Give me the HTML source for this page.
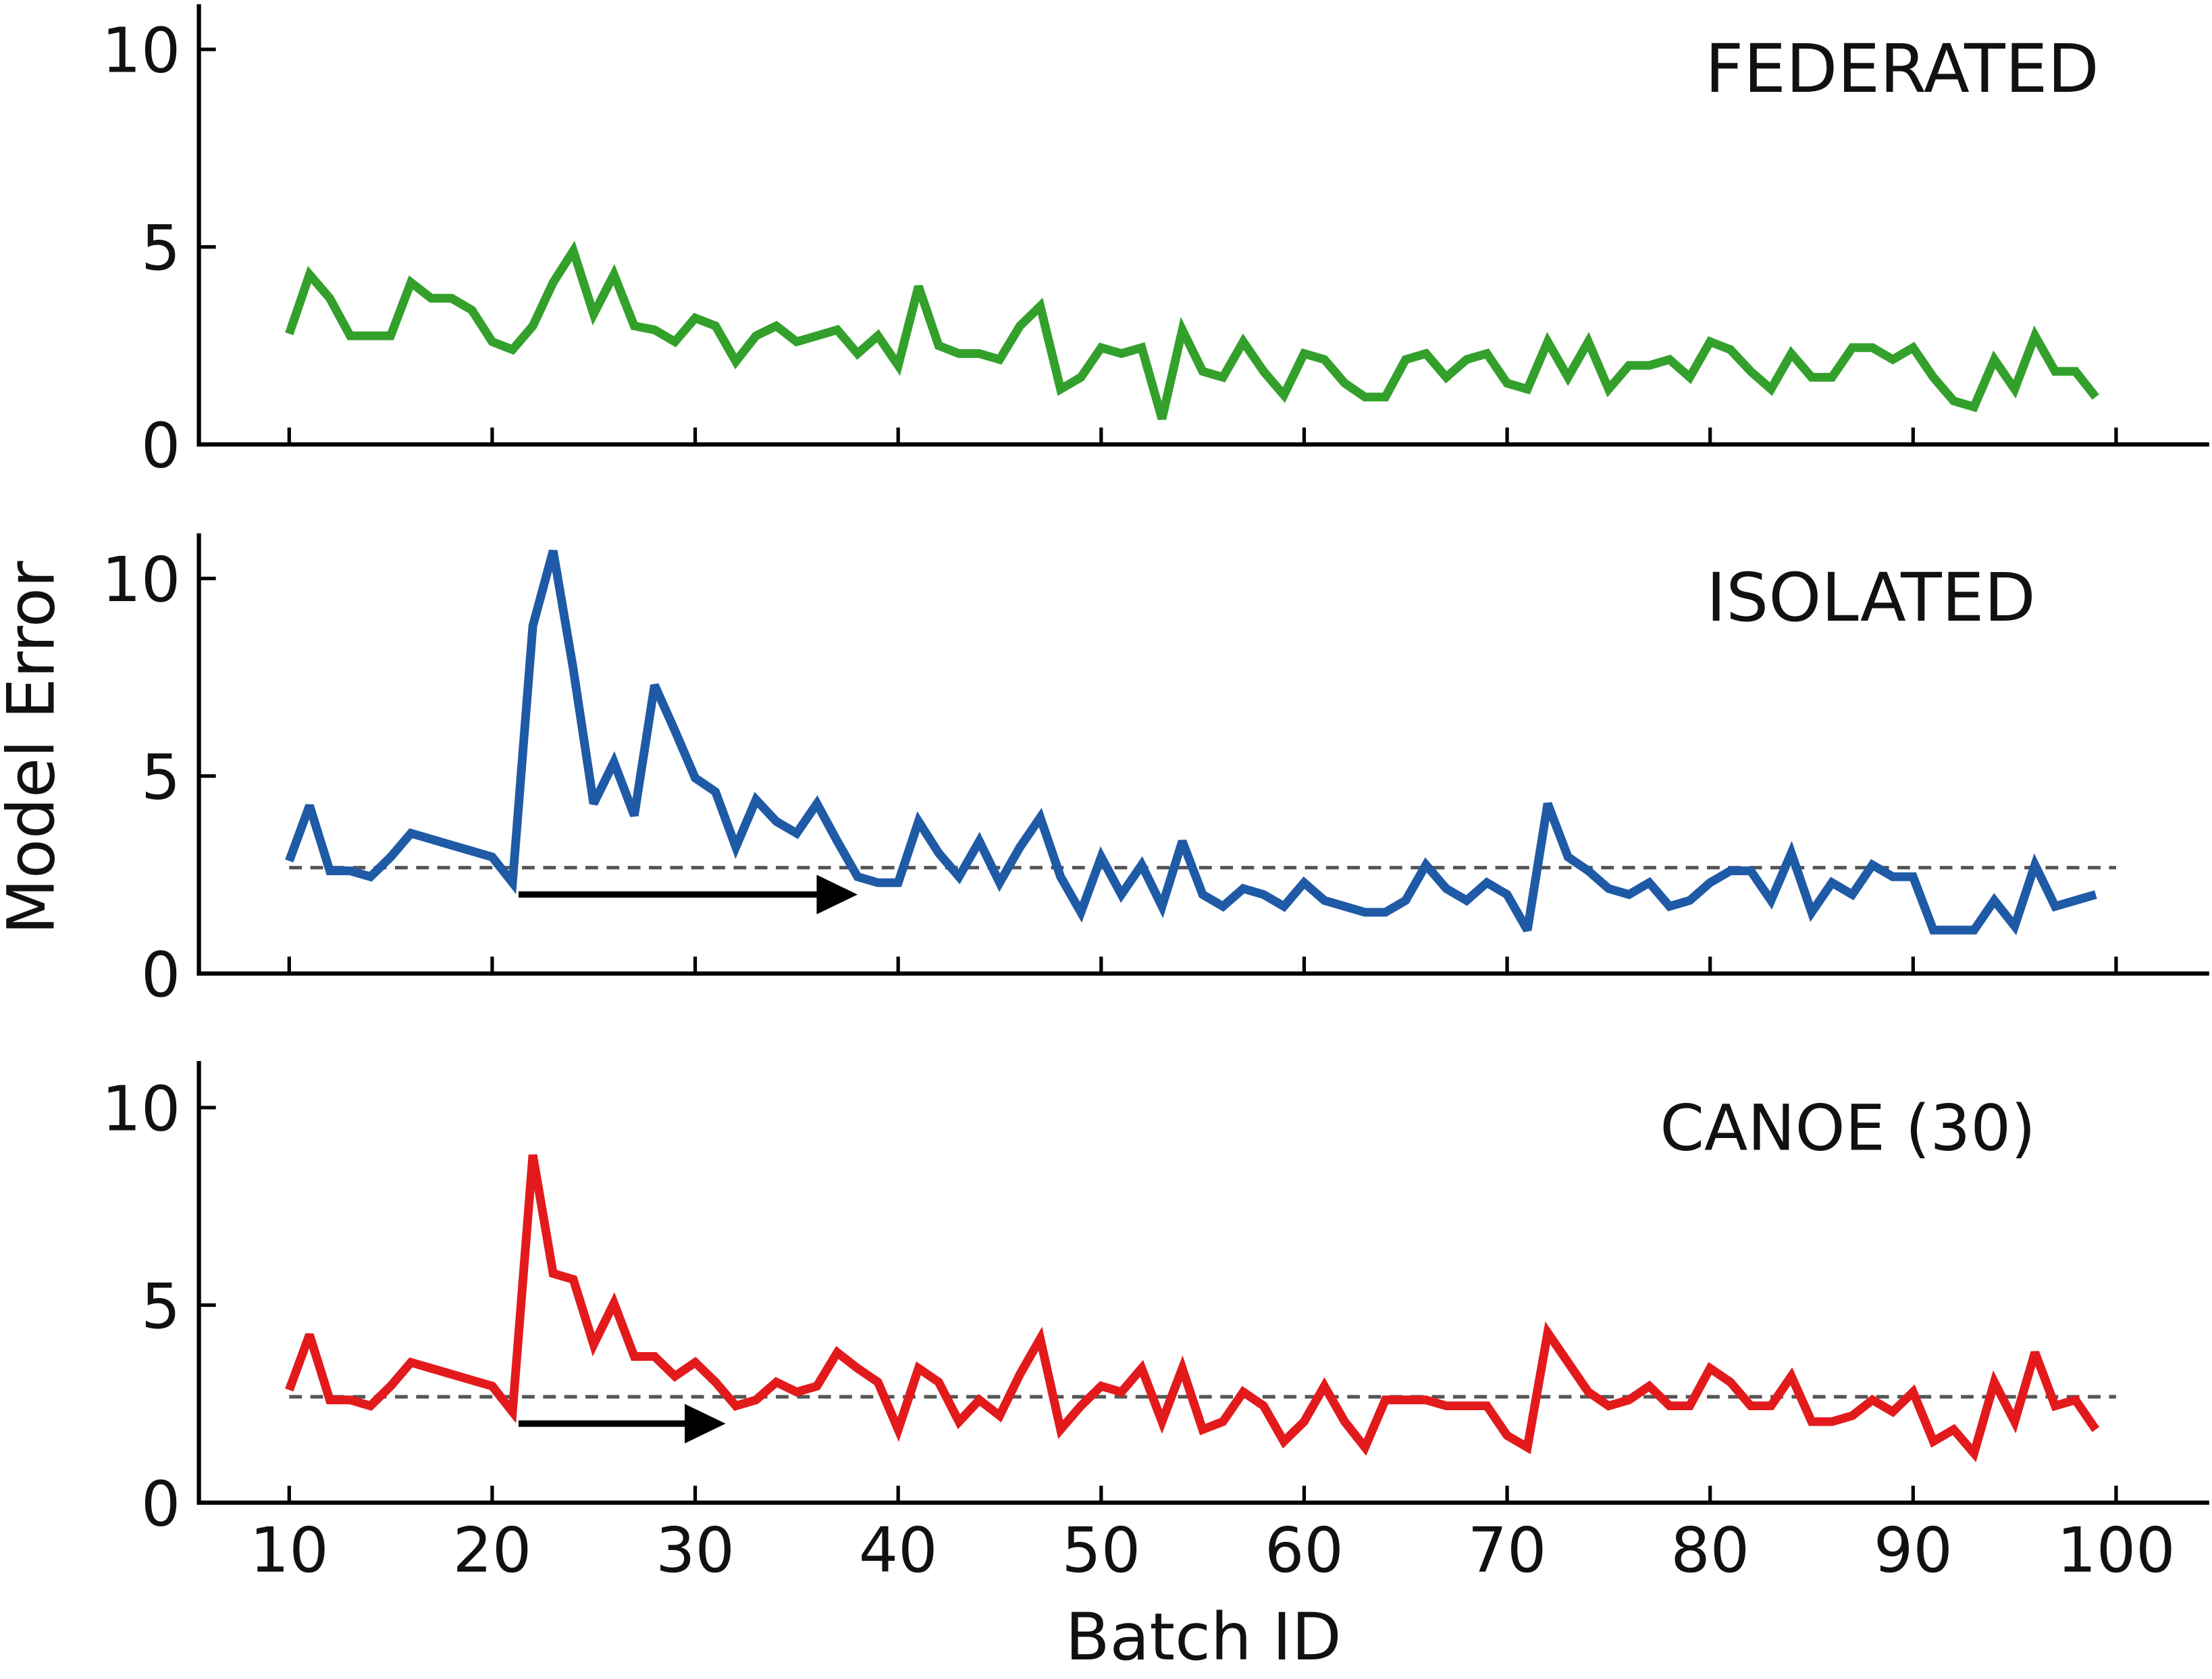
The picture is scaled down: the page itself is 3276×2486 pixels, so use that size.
<!DOCTYPE html>
<html><head><meta charset="utf-8"><style>
html,body{margin:0;padding:0;background:#fff;}
svg{display:block;}
text{font-family:"DejaVu Sans","Liberation Sans",sans-serif;fill:#111;}
</style></head><body>
<svg id="chart" width="3276" height="2486" viewBox="0 0 1568 1190" preserveAspectRatio="none" xmlns="http://www.w3.org/2000/svg">
<g id="root"></g>
</svg>
<script>
const batches = [10,11,12,13,14,15,16,17,18,19,20,21,22,23,24,25,26,27,28,29,30,31,32,33,34,35,36,37,38,39,40,41,42,43,44,45,46,47,48,49,50,51,52,53,54,55,56,57,58,59,60,61,62,63,64,65,66,67,68,69,70,71,72,73,74,75,76,77,78,79,80,81,82,83,84,85,86,87,88,89,90,91,92,93,94,95,96,97,98,99];
const federated = [2.8,4.3,3.7,2.75,2.75,2.75,4.1,3.7,3.7,3.4,2.6,2.4,3.0,4.1,4.9,3.3,4.3,3.0,2.9,2.6,3.2,3.0,2.1,2.75,3.0,2.6,2.75,2.9,2.3,2.75,2.0,4.0,2.5,2.3,2.3,2.15,3.0,3.5,1.4,1.7,2.45,2.3,2.45,0.65,2.9,1.85,1.7,2.6,1.85,1.25,2.3,2.15,1.55,1.2,1.2,2.15,2.3,1.7,2.15,2.3,1.55,1.4,2.6,1.7,2.6,1.4,2.0,2.0,2.15,1.7,2.6,2.4,1.85,1.4,2.3,1.7,1.7,2.45,2.45,2.15,2.45,1.7,1.1,0.95,2.15,1.4,2.75,1.85,1.85,1.2];
const isolated = [2.85,4.25,2.6,2.6,2.45,2.95,3.55,3.4,3.25,3.1,2.95,2.3,8.8,10.7,7.7,4.3,5.35,4.0,7.3,6.15,4.95,4.6,3.2,4.4,3.85,3.55,4.3,3.35,2.45,2.3,2.3,3.85,3.05,2.45,3.35,2.3,3.2,3.95,2.45,1.55,2.95,2.0,2.75,1.7,3.35,2.0,1.7,2.15,2.0,1.7,2.3,1.85,1.7,1.55,1.55,1.85,2.75,2.15,1.85,2.3,2.0,1.1,4.3,2.95,2.6,2.15,2.0,2.3,1.7,1.85,2.3,2.6,2.6,1.85,3.05,1.55,2.3,2.0,2.75,2.45,2.45,1.1,1.1,1.1,1.85,1.2,2.75,1.7,1.85,2.0];
const canoe = [2.85,4.25,2.6,2.6,2.45,2.95,3.55,3.4,3.25,3.1,2.95,2.3,8.8,5.8,5.65,4.0,5.05,3.7,3.7,3.2,3.55,3.05,2.45,2.6,3.05,2.8,2.95,3.8,3.4,3.05,1.85,3.4,3.05,2.05,2.6,2.2,3.25,4.15,1.85,2.45,2.95,2.8,3.4,2.05,3.4,1.85,2.05,2.8,2.45,1.55,2.05,2.95,2.05,1.4,2.6,2.6,2.6,2.45,2.45,2.45,1.7,1.4,4.3,3.55,2.8,2.45,2.6,2.95,2.45,2.45,3.4,3.05,2.45,2.45,3.2,2.05,2.05,2.2,2.6,2.3,2.8,1.55,1.85,1.25,3.05,2.05,3.8,2.45,2.6,1.85];
const xTicks = [10,20,30,40,50,60,70,80,90,100];
const yTicks = [0,5,10];
const baselineValue = 2.68;
const arrows = [null,[21.3,38,2.0],[21.3,31.5,2.0]];
const titles = ["FEDERATED","ISOLATED","CANOE (30)"];
const colors = ["#33a02c","#1f5aa6","#e31a1c"];
const seriesList = [federated,isolated,canoe];

const NS="http://www.w3.org/2000/svg";
const root=document.getElementById('root');
function el(tag,attrs,parent){const e=document.createElementNS(NS,tag);for(const k in attrs)e.setAttribute(k,attrs[k]);(parent||root).appendChild(e);return e;}
const X=b=>205+(b-10)*14.389;
const panels=[{base:315,top:3},{base:690,top:378},{base:1065,top:752}];
const Yf=(p)=>v=>p.base-v*28;

panels.forEach((p,i)=>{
  const Y=Yf(p);
  const g=el('g',{});
  
  
  const ls=el('line',{x1:141,y1:p.top,x2:141,y2:p.base,stroke:'#000','stroke-width':3},g);
  
  
  const bs=el('line',{x1:139.5,y1:p.base,x2:1566,y2:p.base,stroke:'#000','stroke-width':3},g);
  
  
  xTicks.forEach(t=>{
    const tk=el('line',{x1:X(t),y1:p.base,x2:X(t),y2:p.base-12,stroke:'#000','stroke-width':2.5},g);
    
    
    if(i===2){
      const tl=el('text',{x:X(t),y:1114,'font-size':44,'text-anchor':'middle'},g);
      tl.textContent=t;
      
      
    }
  });
  yTicks.forEach(t=>{
    const tk=el('line',{x1:141,y1:Y(t),x2:153,y2:Y(t),stroke:'#000','stroke-width':2.5},g);
    
    
    const tl=el('text',{x:128,y:Y(t)+16,'font-size':44,'text-anchor':'end'},g);
    tl.textContent=t;
    
    
  });
  if(i>0){
    const d=el('line',{x1:X(10),y1:Y(baselineValue),x2:X(100),y2:Y(baselineValue),stroke:'#555','stroke-width':2.5,'stroke-dasharray':'9 6'},g);
    
    
  }
  const s=seriesList[i];
  const pts=batches.map((b,j)=>X(b).toFixed(1)+','+Y(s[j]).toFixed(1)).join(' ');
  const line=el('polyline',{points:pts,fill:'none',stroke:colors[i],'stroke-width':6.2,'stroke-linejoin':'miter','stroke-miterlimit':3},g);
  
  
  const a=arrows[i];
  if(a){
    const ag=el('g',{},g);
    
    
    const x1=X(a[0]),x2=X(a[1]),y=Y(a[2]);
    el('line',{x1:x1,y1:y,x2:x2-26,y2:y,stroke:'#000','stroke-width':4.5},ag);
    el('polygon',{points:`${x2},${y} ${x2-29},${y-14} ${x2-29},${y+14}`,fill:'#000'},ag);
  }
  const tt=el('text',{x:i===0?1488:1443,y:p.base-250,'font-size':i===2?45:47.5,'text-anchor':'end'},g);
  tt.textContent=titles[i];
  
  
});
const xl=el('text',{x:853,y:1176,'font-size':46,'text-anchor':'middle'});
xl.textContent='Batch ID';


const yl=el('text',{x:0,y:0,'font-size':46,'text-anchor':'middle',transform:'translate(38,530) rotate(-90)'});
yl.textContent='Model Error';


</script>
</body></html>
